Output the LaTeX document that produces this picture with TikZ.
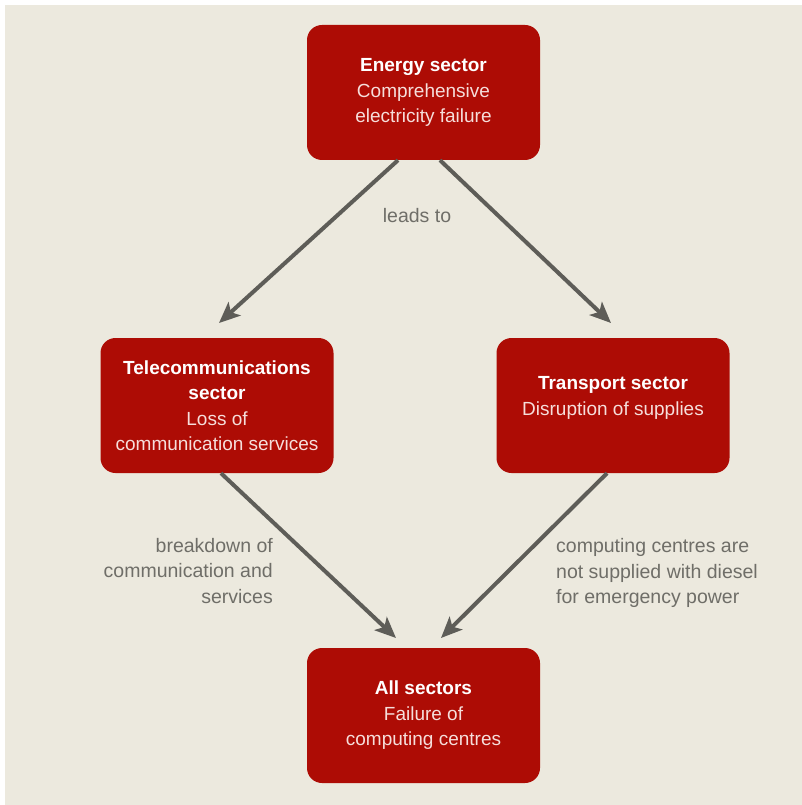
\documentclass[tikz,border=0pt]{standalone}
\usepackage{fontspec}
\setmainfont{Liberation Sans}
\usetikzlibrary{arrows.meta}
\definecolor{paper}{HTML}{ECE9DE}
\definecolor{boxred}{HTML}{AD0C05}
\definecolor{arrowgrey}{HTML}{5E5D58}
\definecolor{labelgrey}{HTML}{6F6E68}
\definecolor{softwhite}{HTML}{F6DEDB}
\newcommand{\boxhead}[1]{{\bfseries\color{white}#1}}
\tikzset{
  sectorbox/.style={fill=boxred, rounded corners=15pt, minimum width=233pt,
    minimum height=135pt, inner sep=0pt, align=center, text=softwhite,
    font=\fontsize{19}{25.5}\selectfont},
  flowarrow/.style={draw=arrowgrey, line width=4pt,
    -{Stealth[length=21pt,width=18pt,inset=5pt]}},
  edgelabel/.style={text=labelgrey, inner sep=0pt,
    font=\fontsize{19.5}{25.5}\selectfont}
}
\begin{document}
\begin{tikzpicture}[x=1pt,y=-1pt]
  \useasboundingbox (0,0) rectangle (802,805);
  \fill[white] (0,0) rectangle (802,805);
  \fill[paper] (5,5) rectangle (802,805);

  % sector boxes
  \node[sectorbox] (energy) at (423.5,92.5)
    {\boxhead{Energy sector}\\Comprehensive\\electricity failure};
  \node[sectorbox] (telecom) at (217,405.5)
    {\boxhead{Telecommunications}\\\boxhead{sector}\\Loss of\\communication services};
  \node[sectorbox] (transport) at (613,405.5)
    {\boxhead{Transport sector}\\Disruption of supplies\\[-6pt]};
  \node[sectorbox] (all) at (423.5,715.5)
    {\boxhead{All sectors}\\Failure of\\computing centres};

  % arrow tips
  \coordinate (tipTelecom) at (219,323);
  \coordinate (tipTransport) at (611,323);
  \coordinate (tipAllLeft) at (396,638);
  \coordinate (tipAllRight) at (441,638);

  % connectors
  \draw[flowarrow] ([xshift=-25.5pt]energy.south) -- (tipTelecom);
  \draw[flowarrow] ([xshift=16.5pt]energy.south) -- (tipTransport);
  \draw[flowarrow] ([xshift=4pt]telecom.south) -- (tipAllLeft);
  \draw[flowarrow] ([xshift=-6pt]transport.south) -- (tipAllRight);

  % connector labels
  \node[edgelabel] (leads) at (417,216) {leads to};
  \node[edgelabel, anchor=east, align=right] (breakdown) at (273,571)
    {breakdown of\\communication and\\services};
  \node[edgelabel, anchor=west, align=left] (diesel) at (556,573)
    {computing centres are\\not supplied with diesel\\for emergency power};
\end{tikzpicture}
\end{document}
